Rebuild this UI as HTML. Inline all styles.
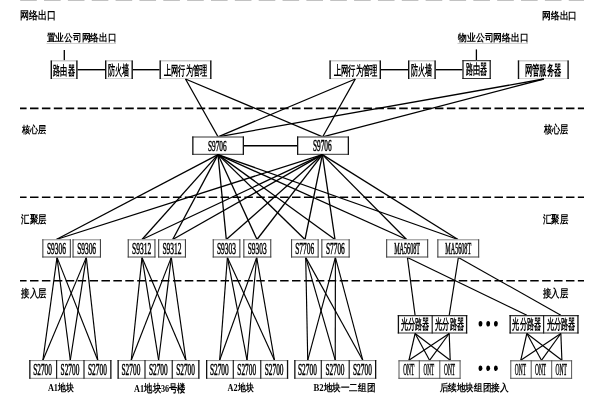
<!DOCTYPE html>
<html><head><meta charset="utf-8"><style>
html,body{margin:0;padding:0;background:#fff;width:600px;height:400px;overflow:hidden}
svg{display:block;will-change:transform}
text{font-family:"Liberation Serif",serif;fill:#000}
</style></head><body>
<svg width="600" height="400" viewBox="0 0 600 400">
<rect width="600" height="400" fill="#fff"/>
<line x1="20" y1="108.4" x2="584" y2="108.4" stroke="#000" stroke-width="1.6" stroke-dasharray="8.5 3.41" stroke-dashoffset="1.91"/>
<line x1="20" y1="197.2" x2="584" y2="197.2" stroke="#000" stroke-width="1.6" stroke-dasharray="8.5 3.41" stroke-dashoffset="1.91"/>
<line x1="20" y1="280.8" x2="584" y2="280.8" stroke="#000" stroke-width="1.6" stroke-dasharray="8.5 3.41" stroke-dashoffset="1.91"/>
<line x1="20.2" y1="0.5" x2="584" y2="0.5" stroke="#c2c2c2" stroke-width="1" stroke-dasharray="16.6 7.25"/>
<text x="19.87" y="19.23" font-size="10.51" textLength="36.07" lengthAdjust="spacingAndGlyphs" font-weight="bold">网络出口</text>
<text x="542.29" y="19.06" font-size="10.31" textLength="34.91" lengthAdjust="spacingAndGlyphs" font-weight="bold">网络出口</text>
<text x="21.95" y="132.63" font-size="10.38" textLength="24.52" lengthAdjust="spacingAndGlyphs" font-weight="bold">核心层</text>
<text x="543.55" y="132.77" font-size="10.77" textLength="24.52" lengthAdjust="spacingAndGlyphs" font-weight="bold">核心层</text>
<text x="21.38" y="223.40" font-size="11.46" textLength="25.08" lengthAdjust="spacingAndGlyphs" font-weight="bold">汇聚层</text>
<text x="543.08" y="223.47" font-size="10.94" textLength="25.08" lengthAdjust="spacingAndGlyphs" font-weight="bold">汇聚层</text>
<text x="21.47" y="296.88" font-size="10.68" textLength="25.00" lengthAdjust="spacingAndGlyphs" font-weight="bold">接入层</text>
<text x="543.17" y="296.95" font-size="10.87" textLength="25.00" lengthAdjust="spacingAndGlyphs" font-weight="bold">接入层</text>
<text x="46.75" y="41.07" font-size="10.20" textLength="69.64" lengthAdjust="spacingAndGlyphs" font-weight="bold">置业公司网络出口</text>
<text x="458.18" y="41.34" font-size="10.40" textLength="70.23" lengthAdjust="spacingAndGlyphs" font-weight="bold">物业公司网络出口</text>
<line x1="46.50" y1="43.40" x2="116.00" y2="43.40" stroke="#bbb" stroke-width="0.8"/>
<line x1="457.50" y1="43.40" x2="528.00" y2="43.40" stroke="#bbb" stroke-width="0.8"/>
<line x1="64.30" y1="50.00" x2="64.30" y2="60.70" stroke="#000" stroke-width="1.3"/>
<line x1="476.40" y1="49.40" x2="476.40" y2="60.70" stroke="#000" stroke-width="1.3"/>
<rect x="50.60" y="60.40" width="27.00" height="18.60" fill="#fff"/>
<line x1="50.60" y1="60.85" x2="77.60" y2="60.85" stroke="#aaa" stroke-width="0.9"/>
<line x1="50.60" y1="78.55" x2="77.60" y2="78.55" stroke="#ccc" stroke-width="0.9"/>
<line x1="51.30" y1="60.40" x2="51.30" y2="79.00" stroke="#111" stroke-width="1.4"/>
<line x1="76.90" y1="60.40" x2="76.90" y2="79.00" stroke="#111" stroke-width="1.4"/>
<text x="53.25" y="74.52" font-size="13.42" textLength="21.49" lengthAdjust="spacingAndGlyphs" font-weight="bold">路由器</text>
<rect x="105.00" y="60.40" width="27.90" height="18.60" fill="#fff"/>
<line x1="105.00" y1="60.85" x2="132.90" y2="60.85" stroke="#aaa" stroke-width="0.9"/>
<line x1="105.00" y1="78.55" x2="132.90" y2="78.55" stroke="#ccc" stroke-width="0.9"/>
<line x1="105.70" y1="60.40" x2="105.70" y2="79.00" stroke="#111" stroke-width="1.4"/>
<line x1="132.20" y1="60.40" x2="132.20" y2="79.00" stroke="#111" stroke-width="1.4"/>
<text x="108.01" y="74.94" font-size="13.70" textLength="21.43" lengthAdjust="spacingAndGlyphs" font-weight="bold">防火墙</text>
<rect x="159.50" y="60.40" width="52.00" height="18.60" fill="#fff"/>
<line x1="159.50" y1="60.85" x2="211.50" y2="60.85" stroke="#aaa" stroke-width="0.9"/>
<line x1="159.50" y1="78.55" x2="211.50" y2="78.55" stroke="#ccc" stroke-width="0.9"/>
<line x1="160.20" y1="60.40" x2="160.20" y2="79.00" stroke="#111" stroke-width="1.4"/>
<line x1="210.80" y1="60.40" x2="210.80" y2="79.00" stroke="#111" stroke-width="1.4"/>
<text x="164.00" y="74.53" font-size="13.13" textLength="43.14" lengthAdjust="spacingAndGlyphs" font-weight="bold">上网行为管理</text>
<rect x="329.40" y="60.40" width="51.60" height="18.60" fill="#fff"/>
<line x1="329.40" y1="60.85" x2="381.00" y2="60.85" stroke="#aaa" stroke-width="0.9"/>
<line x1="329.40" y1="78.55" x2="381.00" y2="78.55" stroke="#ccc" stroke-width="0.9"/>
<line x1="330.10" y1="60.40" x2="330.10" y2="79.00" stroke="#111" stroke-width="1.4"/>
<line x1="380.30" y1="60.40" x2="380.30" y2="79.00" stroke="#111" stroke-width="1.4"/>
<text x="333.80" y="74.53" font-size="13.13" textLength="43.85" lengthAdjust="spacingAndGlyphs" font-weight="bold">上网行为管理</text>
<rect x="408.00" y="60.40" width="27.80" height="18.60" fill="#fff"/>
<line x1="408.00" y1="60.85" x2="435.80" y2="60.85" stroke="#aaa" stroke-width="0.9"/>
<line x1="408.00" y1="78.55" x2="435.80" y2="78.55" stroke="#ccc" stroke-width="0.9"/>
<line x1="408.70" y1="60.40" x2="408.70" y2="79.00" stroke="#111" stroke-width="1.4"/>
<line x1="435.10" y1="60.40" x2="435.10" y2="79.00" stroke="#111" stroke-width="1.4"/>
<text x="411.01" y="74.94" font-size="13.70" textLength="21.43" lengthAdjust="spacingAndGlyphs" font-weight="bold">防火墙</text>
<rect x="462.40" y="60.20" width="28.40" height="18.80" fill="#fff"/>
<line x1="462.40" y1="60.70" x2="490.80" y2="60.70" stroke="#222" stroke-width="1.0"/>
<line x1="462.40" y1="78.50" x2="490.80" y2="78.50" stroke="#333" stroke-width="1.0"/>
<line x1="463.00" y1="60.20" x2="463.00" y2="79.00" stroke="#111" stroke-width="1.2"/>
<line x1="490.20" y1="60.20" x2="490.20" y2="79.00" stroke="#111" stroke-width="1.2"/>
<text x="465.90" y="74.40" font-size="13.57" textLength="21.54" lengthAdjust="spacingAndGlyphs" font-weight="bold">路由器</text>
<rect x="517.80" y="60.40" width="51.00" height="18.60" fill="#fff"/>
<line x1="517.80" y1="60.85" x2="568.80" y2="60.85" stroke="#aaa" stroke-width="0.9"/>
<line x1="517.80" y1="78.55" x2="568.80" y2="78.55" stroke="#ccc" stroke-width="0.9"/>
<line x1="518.50" y1="60.40" x2="518.50" y2="79.00" stroke="#111" stroke-width="1.4"/>
<line x1="568.10" y1="60.40" x2="568.10" y2="79.00" stroke="#111" stroke-width="1.4"/>
<text x="524.69" y="74.77" font-size="13.94" textLength="36.76" lengthAdjust="spacingAndGlyphs" font-weight="bold">网管服务器</text>
<line x1="77.60" y1="69.70" x2="105.00" y2="69.70" stroke="#000" stroke-width="1.4"/>
<line x1="132.90" y1="69.70" x2="159.50" y2="69.70" stroke="#000" stroke-width="1.4"/>
<line x1="381.00" y1="69.70" x2="408.00" y2="69.70" stroke="#000" stroke-width="1.4"/>
<line x1="435.80" y1="69.70" x2="462.40" y2="69.70" stroke="#000" stroke-width="1.4"/>
<line x1="185.50" y1="79.00" x2="218.00" y2="136.80" stroke="#000" stroke-width="1.3"/>
<line x1="185.50" y1="79.00" x2="322.70" y2="136.80" stroke="#000" stroke-width="1.3"/>
<line x1="355.30" y1="79.00" x2="218.00" y2="136.80" stroke="#000" stroke-width="1.3"/>
<line x1="355.30" y1="79.00" x2="322.70" y2="136.80" stroke="#000" stroke-width="1.3"/>
<line x1="543.80" y1="79.00" x2="218.00" y2="136.80" stroke="#000" stroke-width="1.3"/>
<line x1="543.80" y1="79.00" x2="322.70" y2="136.80" stroke="#000" stroke-width="1.3"/>
<rect x="192.20" y="136.50" width="51.80" height="18.30" fill="#fff"/>
<line x1="192.20" y1="137.00" x2="244.00" y2="137.00" stroke="#333" stroke-width="1.0"/>
<line x1="192.20" y1="154.30" x2="244.00" y2="154.30" stroke="#333" stroke-width="1.0"/>
<line x1="192.85" y1="136.50" x2="192.85" y2="154.80" stroke="#111" stroke-width="1.3"/>
<line x1="243.35" y1="136.50" x2="243.35" y2="154.80" stroke="#111" stroke-width="1.3"/>
<rect x="297.00" y="136.50" width="52.00" height="18.30" fill="#fff"/>
<line x1="297.00" y1="137.00" x2="349.00" y2="137.00" stroke="#333" stroke-width="1.0"/>
<line x1="297.00" y1="154.30" x2="349.00" y2="154.30" stroke="#333" stroke-width="1.0"/>
<line x1="297.65" y1="136.50" x2="297.65" y2="154.80" stroke="#111" stroke-width="1.3"/>
<line x1="348.35" y1="136.50" x2="348.35" y2="154.80" stroke="#111" stroke-width="1.3"/>
<line x1="244.00" y1="145.70" x2="297.00" y2="145.70" stroke="#000" stroke-width="1.4"/>
<text x="207.99" y="150.79" font-size="15.59" textLength="18.70" lengthAdjust="spacingAndGlyphs" stroke="#000" stroke-width="0.55">S9706</text>
<text x="312.99" y="150.89" font-size="15.74" textLength="18.70" lengthAdjust="spacingAndGlyphs" stroke="#000" stroke-width="0.55">S9706</text>
<line x1="218.00" y1="154.60" x2="56.30" y2="239.50" stroke="#000" stroke-width="1.3"/>
<line x1="218.00" y1="154.60" x2="142.00" y2="239.50" stroke="#000" stroke-width="1.3"/>
<line x1="218.00" y1="154.60" x2="172.70" y2="239.50" stroke="#000" stroke-width="1.3"/>
<line x1="218.00" y1="154.60" x2="226.30" y2="239.50" stroke="#000" stroke-width="1.3"/>
<line x1="218.00" y1="154.60" x2="257.00" y2="239.50" stroke="#000" stroke-width="1.3"/>
<line x1="218.00" y1="154.60" x2="305.00" y2="239.50" stroke="#000" stroke-width="1.3"/>
<line x1="218.00" y1="154.60" x2="335.00" y2="239.50" stroke="#000" stroke-width="1.3"/>
<line x1="218.00" y1="154.60" x2="406.60" y2="239.50" stroke="#000" stroke-width="1.3"/>
<line x1="218.00" y1="154.60" x2="458.00" y2="239.50" stroke="#000" stroke-width="1.3"/>
<line x1="322.40" y1="154.60" x2="56.30" y2="239.50" stroke="#000" stroke-width="1.3"/>
<line x1="322.40" y1="154.60" x2="142.00" y2="239.50" stroke="#000" stroke-width="1.3"/>
<line x1="322.40" y1="154.60" x2="172.70" y2="239.50" stroke="#000" stroke-width="1.3"/>
<line x1="322.40" y1="154.60" x2="226.30" y2="239.50" stroke="#000" stroke-width="1.3"/>
<line x1="322.40" y1="154.60" x2="257.00" y2="239.50" stroke="#000" stroke-width="1.3"/>
<line x1="322.40" y1="154.60" x2="305.00" y2="239.50" stroke="#000" stroke-width="1.3"/>
<line x1="322.40" y1="154.60" x2="335.00" y2="239.50" stroke="#000" stroke-width="1.3"/>
<line x1="322.40" y1="154.60" x2="406.60" y2="239.50" stroke="#000" stroke-width="1.3"/>
<line x1="322.40" y1="154.60" x2="458.00" y2="239.50" stroke="#000" stroke-width="1.3"/>
<line x1="57.00" y1="257.40" x2="42.90" y2="360.20" stroke="#000" stroke-width="1.15"/>
<line x1="57.00" y1="257.40" x2="70.30" y2="360.20" stroke="#000" stroke-width="1.15"/>
<line x1="57.00" y1="257.40" x2="97.75" y2="360.20" stroke="#000" stroke-width="1.15"/>
<line x1="86.30" y1="257.40" x2="42.90" y2="360.20" stroke="#000" stroke-width="1.15"/>
<line x1="86.30" y1="257.40" x2="70.30" y2="360.20" stroke="#000" stroke-width="1.15"/>
<line x1="86.30" y1="257.40" x2="97.75" y2="360.20" stroke="#000" stroke-width="1.15"/>
<line x1="142.00" y1="257.40" x2="131.25" y2="360.20" stroke="#000" stroke-width="1.15"/>
<line x1="142.00" y1="257.40" x2="158.62" y2="360.20" stroke="#000" stroke-width="1.15"/>
<line x1="142.00" y1="257.40" x2="185.88" y2="360.20" stroke="#000" stroke-width="1.15"/>
<line x1="171.30" y1="257.40" x2="131.25" y2="360.20" stroke="#000" stroke-width="1.15"/>
<line x1="171.30" y1="257.40" x2="158.62" y2="360.20" stroke="#000" stroke-width="1.15"/>
<line x1="171.30" y1="257.40" x2="185.88" y2="360.20" stroke="#000" stroke-width="1.15"/>
<line x1="227.40" y1="257.40" x2="219.65" y2="360.20" stroke="#000" stroke-width="1.15"/>
<line x1="227.40" y1="257.40" x2="247.03" y2="360.20" stroke="#000" stroke-width="1.15"/>
<line x1="227.40" y1="257.40" x2="274.48" y2="360.20" stroke="#000" stroke-width="1.15"/>
<line x1="256.70" y1="257.40" x2="219.65" y2="360.20" stroke="#000" stroke-width="1.15"/>
<line x1="256.70" y1="257.40" x2="247.03" y2="360.20" stroke="#000" stroke-width="1.15"/>
<line x1="256.70" y1="257.40" x2="274.48" y2="360.20" stroke="#000" stroke-width="1.15"/>
<line x1="305.70" y1="257.40" x2="307.75" y2="360.20" stroke="#000" stroke-width="1.15"/>
<line x1="305.70" y1="257.40" x2="335.25" y2="360.20" stroke="#000" stroke-width="1.15"/>
<line x1="305.70" y1="257.40" x2="362.75" y2="360.20" stroke="#000" stroke-width="1.15"/>
<line x1="335.40" y1="257.40" x2="307.75" y2="360.20" stroke="#000" stroke-width="1.15"/>
<line x1="335.40" y1="257.40" x2="335.25" y2="360.20" stroke="#000" stroke-width="1.15"/>
<line x1="335.40" y1="257.40" x2="362.75" y2="360.20" stroke="#000" stroke-width="1.15"/>
<line x1="407.40" y1="257.40" x2="415.10" y2="315.30" stroke="#000" stroke-width="1.15"/>
<line x1="407.40" y1="257.40" x2="526.85" y2="315.30" stroke="#000" stroke-width="1.15"/>
<line x1="458.40" y1="257.40" x2="449.20" y2="315.30" stroke="#000" stroke-width="1.15"/>
<line x1="458.40" y1="257.40" x2="560.85" y2="315.30" stroke="#000" stroke-width="1.15"/>
<rect x="42.30" y="239.30" width="28.60" height="18.20" fill="#fff"/>
<line x1="42.30" y1="239.80" x2="70.90" y2="239.80" stroke="#888" stroke-width="1.0"/>
<line x1="42.30" y1="257.00" x2="70.90" y2="257.00" stroke="#444" stroke-width="1.0"/>
<line x1="42.85" y1="239.30" x2="42.85" y2="257.50" stroke="#444" stroke-width="1.1"/>
<line x1="70.35" y1="239.30" x2="70.35" y2="257.50" stroke="#444" stroke-width="1.1"/>
<text x="46.98" y="253.66" font-size="17.21" textLength="18.91" lengthAdjust="spacingAndGlyphs" stroke="#000" stroke-width="0.55">S9306</text>
<rect x="72.50" y="239.30" width="28.50" height="18.20" fill="#fff"/>
<line x1="72.50" y1="239.80" x2="101.00" y2="239.80" stroke="#888" stroke-width="1.0"/>
<line x1="72.50" y1="257.00" x2="101.00" y2="257.00" stroke="#444" stroke-width="1.0"/>
<line x1="73.05" y1="239.30" x2="73.05" y2="257.50" stroke="#444" stroke-width="1.1"/>
<line x1="100.45" y1="239.30" x2="100.45" y2="257.50" stroke="#444" stroke-width="1.1"/>
<text x="77.13" y="253.66" font-size="17.21" textLength="18.91" lengthAdjust="spacingAndGlyphs" stroke="#000" stroke-width="0.55">S9306</text>
<rect x="127.70" y="239.30" width="27.80" height="18.20" fill="#fff"/>
<line x1="127.70" y1="239.80" x2="155.50" y2="239.80" stroke="#888" stroke-width="1.0"/>
<line x1="127.70" y1="257.00" x2="155.50" y2="257.00" stroke="#444" stroke-width="1.0"/>
<line x1="128.25" y1="239.30" x2="128.25" y2="257.50" stroke="#444" stroke-width="1.1"/>
<line x1="154.95" y1="239.30" x2="154.95" y2="257.50" stroke="#444" stroke-width="1.1"/>
<text x="131.98" y="253.66" font-size="17.21" textLength="19.15" lengthAdjust="spacingAndGlyphs" stroke="#000" stroke-width="0.55">S9312</text>
<rect x="158.10" y="239.30" width="27.90" height="18.20" fill="#fff"/>
<line x1="158.10" y1="239.80" x2="186.00" y2="239.80" stroke="#888" stroke-width="1.0"/>
<line x1="158.10" y1="257.00" x2="186.00" y2="257.00" stroke="#444" stroke-width="1.0"/>
<line x1="158.65" y1="239.30" x2="158.65" y2="257.50" stroke="#444" stroke-width="1.1"/>
<line x1="185.45" y1="239.30" x2="185.45" y2="257.50" stroke="#444" stroke-width="1.1"/>
<text x="162.43" y="253.66" font-size="17.21" textLength="19.15" lengthAdjust="spacingAndGlyphs" stroke="#000" stroke-width="0.55">S9312</text>
<rect x="212.70" y="239.30" width="27.70" height="18.20" fill="#fff"/>
<line x1="212.70" y1="239.80" x2="240.40" y2="239.80" stroke="#888" stroke-width="1.0"/>
<line x1="212.70" y1="257.00" x2="240.40" y2="257.00" stroke="#444" stroke-width="1.0"/>
<line x1="213.25" y1="239.30" x2="213.25" y2="257.50" stroke="#444" stroke-width="1.1"/>
<line x1="239.85" y1="239.30" x2="239.85" y2="257.50" stroke="#444" stroke-width="1.1"/>
<text x="216.93" y="253.66" font-size="17.21" textLength="18.99" lengthAdjust="spacingAndGlyphs" stroke="#000" stroke-width="0.55">S9303</text>
<rect x="243.30" y="239.30" width="28.00" height="18.20" fill="#fff"/>
<line x1="243.30" y1="239.80" x2="271.30" y2="239.80" stroke="#888" stroke-width="1.0"/>
<line x1="243.30" y1="257.00" x2="271.30" y2="257.00" stroke="#444" stroke-width="1.0"/>
<line x1="243.85" y1="239.30" x2="243.85" y2="257.50" stroke="#444" stroke-width="1.1"/>
<line x1="270.75" y1="239.30" x2="270.75" y2="257.50" stroke="#444" stroke-width="1.1"/>
<text x="247.68" y="253.66" font-size="17.21" textLength="18.99" lengthAdjust="spacingAndGlyphs" stroke="#000" stroke-width="0.55">S9303</text>
<rect x="291.00" y="239.30" width="27.70" height="18.20" fill="#fff"/>
<line x1="291.00" y1="239.80" x2="318.70" y2="239.80" stroke="#888" stroke-width="1.0"/>
<line x1="291.00" y1="257.00" x2="318.70" y2="257.00" stroke="#444" stroke-width="1.0"/>
<line x1="291.55" y1="239.30" x2="291.55" y2="257.50" stroke="#444" stroke-width="1.1"/>
<line x1="318.15" y1="239.30" x2="318.15" y2="257.50" stroke="#444" stroke-width="1.1"/>
<text x="295.23" y="253.66" font-size="17.21" textLength="18.91" lengthAdjust="spacingAndGlyphs" stroke="#000" stroke-width="0.55">S7706</text>
<rect x="321.30" y="239.30" width="28.40" height="18.20" fill="#fff"/>
<line x1="321.30" y1="239.80" x2="349.70" y2="239.80" stroke="#888" stroke-width="1.0"/>
<line x1="321.30" y1="257.00" x2="349.70" y2="257.00" stroke="#444" stroke-width="1.0"/>
<line x1="321.85" y1="239.30" x2="321.85" y2="257.50" stroke="#444" stroke-width="1.1"/>
<line x1="349.15" y1="239.30" x2="349.15" y2="257.50" stroke="#444" stroke-width="1.1"/>
<text x="325.88" y="253.66" font-size="17.21" textLength="18.91" lengthAdjust="spacingAndGlyphs" stroke="#000" stroke-width="0.55">S7706</text>
<rect x="386.10" y="239.30" width="42.10" height="18.20" fill="#fff"/>
<line x1="386.10" y1="239.80" x2="428.20" y2="239.80" stroke="#888" stroke-width="1.0"/>
<line x1="386.10" y1="257.00" x2="428.20" y2="257.00" stroke="#444" stroke-width="1.0"/>
<line x1="386.65" y1="239.30" x2="386.65" y2="257.50" stroke="#444" stroke-width="1.1"/>
<line x1="427.65" y1="239.30" x2="427.65" y2="257.50" stroke="#444" stroke-width="1.1"/>
<text x="394.17" y="254.06" font-size="17.06" textLength="25.86" lengthAdjust="spacingAndGlyphs" stroke="#000" stroke-width="0.55">MA5608T</text>
<rect x="437.30" y="239.30" width="41.90" height="18.20" fill="#fff"/>
<line x1="437.30" y1="239.80" x2="479.20" y2="239.80" stroke="#888" stroke-width="1.0"/>
<line x1="437.30" y1="257.00" x2="479.20" y2="257.00" stroke="#444" stroke-width="1.0"/>
<line x1="437.85" y1="239.30" x2="437.85" y2="257.50" stroke="#444" stroke-width="1.1"/>
<line x1="478.65" y1="239.30" x2="478.65" y2="257.50" stroke="#444" stroke-width="1.1"/>
<text x="445.27" y="254.06" font-size="17.06" textLength="25.86" lengthAdjust="spacingAndGlyphs" stroke="#000" stroke-width="0.55">MA5608T</text>
<rect x="29.20" y="360.10" width="82.30" height="18.70" fill="#fff"/>
<line x1="29.20" y1="360.60" x2="111.50" y2="360.60" stroke="#888" stroke-width="1.0"/>
<line x1="29.20" y1="378.30" x2="111.50" y2="378.30" stroke="#888" stroke-width="1.0"/>
<line x1="29.85" y1="360.10" x2="29.85" y2="378.80" stroke="#111" stroke-width="1.3"/>
<line x1="110.85" y1="360.10" x2="110.85" y2="378.80" stroke="#111" stroke-width="1.3"/>
<line x1="56.60" y1="360.10" x2="56.60" y2="378.80" stroke="#222" stroke-width="1.2"/>
<line x1="84.00" y1="360.10" x2="84.00" y2="378.80" stroke="#222" stroke-width="1.2"/>
<text x="33.19" y="374.68" font-size="16.18" textLength="18.78" lengthAdjust="spacingAndGlyphs" stroke="#000" stroke-width="0.55">S2700</text>
<text x="60.59" y="374.68" font-size="16.18" textLength="18.78" lengthAdjust="spacingAndGlyphs" stroke="#000" stroke-width="0.55">S2700</text>
<text x="88.04" y="374.68" font-size="16.18" textLength="18.78" lengthAdjust="spacingAndGlyphs" stroke="#000" stroke-width="0.55">S2700</text>
<rect x="117.50" y="360.10" width="82.00" height="18.70" fill="#fff"/>
<line x1="117.50" y1="360.60" x2="199.50" y2="360.60" stroke="#888" stroke-width="1.0"/>
<line x1="117.50" y1="378.30" x2="199.50" y2="378.30" stroke="#888" stroke-width="1.0"/>
<line x1="118.15" y1="360.10" x2="118.15" y2="378.80" stroke="#111" stroke-width="1.3"/>
<line x1="198.85" y1="360.10" x2="198.85" y2="378.80" stroke="#111" stroke-width="1.3"/>
<line x1="145.00" y1="360.10" x2="145.00" y2="378.80" stroke="#222" stroke-width="1.2"/>
<line x1="172.25" y1="360.10" x2="172.25" y2="378.80" stroke="#222" stroke-width="1.2"/>
<text x="121.54" y="374.68" font-size="16.18" textLength="18.78" lengthAdjust="spacingAndGlyphs" stroke="#000" stroke-width="0.55">S2700</text>
<text x="148.91" y="374.68" font-size="16.18" textLength="18.78" lengthAdjust="spacingAndGlyphs" stroke="#000" stroke-width="0.55">S2700</text>
<text x="176.16" y="374.68" font-size="16.18" textLength="18.78" lengthAdjust="spacingAndGlyphs" stroke="#000" stroke-width="0.55">S2700</text>
<rect x="206.00" y="360.10" width="82.20" height="18.70" fill="#fff"/>
<line x1="206.00" y1="360.60" x2="288.20" y2="360.60" stroke="#888" stroke-width="1.0"/>
<line x1="206.00" y1="378.30" x2="288.20" y2="378.30" stroke="#888" stroke-width="1.0"/>
<line x1="206.65" y1="360.10" x2="206.65" y2="378.80" stroke="#111" stroke-width="1.3"/>
<line x1="287.55" y1="360.10" x2="287.55" y2="378.80" stroke="#111" stroke-width="1.3"/>
<line x1="233.30" y1="360.10" x2="233.30" y2="378.80" stroke="#222" stroke-width="1.2"/>
<line x1="260.75" y1="360.10" x2="260.75" y2="378.80" stroke="#222" stroke-width="1.2"/>
<text x="209.94" y="374.68" font-size="16.18" textLength="18.78" lengthAdjust="spacingAndGlyphs" stroke="#000" stroke-width="0.55">S2700</text>
<text x="237.31" y="374.68" font-size="16.18" textLength="18.78" lengthAdjust="spacingAndGlyphs" stroke="#000" stroke-width="0.55">S2700</text>
<text x="264.76" y="374.68" font-size="16.18" textLength="18.78" lengthAdjust="spacingAndGlyphs" stroke="#000" stroke-width="0.55">S2700</text>
<rect x="294.20" y="360.10" width="82.10" height="18.70" fill="#fff"/>
<line x1="294.20" y1="360.60" x2="376.30" y2="360.60" stroke="#888" stroke-width="1.0"/>
<line x1="294.20" y1="378.30" x2="376.30" y2="378.30" stroke="#888" stroke-width="1.0"/>
<line x1="294.85" y1="360.10" x2="294.85" y2="378.80" stroke="#111" stroke-width="1.3"/>
<line x1="375.65" y1="360.10" x2="375.65" y2="378.80" stroke="#111" stroke-width="1.3"/>
<line x1="321.30" y1="360.10" x2="321.30" y2="378.80" stroke="#222" stroke-width="1.2"/>
<line x1="349.20" y1="360.10" x2="349.20" y2="378.80" stroke="#222" stroke-width="1.2"/>
<text x="298.04" y="374.68" font-size="16.18" textLength="18.78" lengthAdjust="spacingAndGlyphs" stroke="#000" stroke-width="0.55">S2700</text>
<text x="325.54" y="374.68" font-size="16.18" textLength="18.78" lengthAdjust="spacingAndGlyphs" stroke="#000" stroke-width="0.55">S2700</text>
<text x="353.04" y="374.68" font-size="16.18" textLength="18.78" lengthAdjust="spacingAndGlyphs" stroke="#000" stroke-width="0.55">S2700</text>
<rect x="397.75" y="315.10" width="69.50" height="18.40" fill="#fff"/>
<line x1="397.75" y1="315.65" x2="467.25" y2="315.65" stroke="#333" stroke-width="1.1"/>
<line x1="397.75" y1="332.95" x2="467.25" y2="332.95" stroke="#333" stroke-width="1.1"/>
<line x1="398.40" y1="315.10" x2="398.40" y2="333.50" stroke="#111" stroke-width="1.3"/>
<line x1="466.60" y1="315.10" x2="466.60" y2="333.50" stroke="#111" stroke-width="1.3"/>
<line x1="432.20" y1="315.10" x2="432.20" y2="333.50" stroke="#222" stroke-width="1.2"/>
<text x="400.74" y="328.97" font-size="13.54" textLength="28.80" lengthAdjust="spacingAndGlyphs" font-weight="bold">光分路器</text>
<text x="435.14" y="328.97" font-size="13.54" textLength="28.75" lengthAdjust="spacingAndGlyphs" font-weight="bold">光分路器</text>
<rect x="509.50" y="315.10" width="69.10" height="18.40" fill="#fff"/>
<line x1="509.50" y1="315.65" x2="578.60" y2="315.65" stroke="#333" stroke-width="1.1"/>
<line x1="509.50" y1="332.95" x2="578.60" y2="332.95" stroke="#333" stroke-width="1.1"/>
<line x1="510.15" y1="315.10" x2="510.15" y2="333.50" stroke="#111" stroke-width="1.3"/>
<line x1="577.95" y1="315.10" x2="577.95" y2="333.50" stroke="#111" stroke-width="1.3"/>
<line x1="543.60" y1="315.10" x2="543.60" y2="333.50" stroke="#222" stroke-width="1.2"/>
<text x="512.39" y="328.97" font-size="13.54" textLength="28.75" lengthAdjust="spacingAndGlyphs" font-weight="bold">光分路器</text>
<text x="546.89" y="328.97" font-size="13.54" textLength="28.75" lengthAdjust="spacingAndGlyphs" font-weight="bold">光分路器</text>
<line x1="415.10" y1="333.50" x2="408.90" y2="360.30" stroke="#000" stroke-width="1.15"/>
<line x1="415.10" y1="333.50" x2="429.55" y2="360.30" stroke="#000" stroke-width="1.15"/>
<line x1="415.10" y1="333.50" x2="450.20" y2="360.30" stroke="#000" stroke-width="1.15"/>
<line x1="449.20" y1="333.50" x2="408.90" y2="360.30" stroke="#000" stroke-width="1.15"/>
<line x1="449.20" y1="333.50" x2="429.55" y2="360.30" stroke="#000" stroke-width="1.15"/>
<line x1="449.20" y1="333.50" x2="450.20" y2="360.30" stroke="#000" stroke-width="1.15"/>
<rect x="398.50" y="360.30" width="62.10" height="18.50" fill="#fff"/>
<line x1="398.50" y1="360.80" x2="460.60" y2="360.80" stroke="#555" stroke-width="1.0"/>
<line x1="398.50" y1="378.30" x2="460.60" y2="378.30" stroke="#555" stroke-width="1.0"/>
<line x1="399.00" y1="360.30" x2="399.00" y2="378.80" stroke="#555" stroke-width="1.0"/>
<line x1="460.10" y1="360.30" x2="460.10" y2="378.80" stroke="#555" stroke-width="1.0"/>
<line x1="419.30" y1="360.30" x2="419.30" y2="378.80" stroke="#555" stroke-width="1.0"/>
<line x1="439.80" y1="360.30" x2="439.80" y2="378.80" stroke="#555" stroke-width="1.0"/>
<text x="403.19" y="374.66" font-size="16.76" textLength="11.00" lengthAdjust="spacingAndGlyphs" stroke="#000" stroke-width="0.55">ONT</text>
<text x="423.60" y="374.66" font-size="16.76" textLength="10.48" lengthAdjust="spacingAndGlyphs" stroke="#000" stroke-width="0.55">ONT</text>
<text x="443.98" y="374.66" font-size="16.76" textLength="11.10" lengthAdjust="spacingAndGlyphs" stroke="#000" stroke-width="0.55">ONT</text>
<line x1="526.85" y1="333.50" x2="520.75" y2="360.30" stroke="#000" stroke-width="1.15"/>
<line x1="526.85" y1="333.50" x2="541.45" y2="360.30" stroke="#000" stroke-width="1.15"/>
<line x1="526.85" y1="333.50" x2="561.90" y2="360.30" stroke="#000" stroke-width="1.15"/>
<line x1="560.85" y1="333.50" x2="520.75" y2="360.30" stroke="#000" stroke-width="1.15"/>
<line x1="560.85" y1="333.50" x2="541.45" y2="360.30" stroke="#000" stroke-width="1.15"/>
<line x1="560.85" y1="333.50" x2="561.90" y2="360.30" stroke="#000" stroke-width="1.15"/>
<rect x="510.30" y="360.30" width="61.80" height="18.50" fill="#fff"/>
<line x1="510.30" y1="360.80" x2="572.10" y2="360.80" stroke="#555" stroke-width="1.0"/>
<line x1="510.30" y1="378.30" x2="572.10" y2="378.30" stroke="#555" stroke-width="1.0"/>
<line x1="510.80" y1="360.30" x2="510.80" y2="378.80" stroke="#555" stroke-width="1.0"/>
<line x1="571.60" y1="360.30" x2="571.60" y2="378.80" stroke="#555" stroke-width="1.0"/>
<line x1="531.20" y1="360.30" x2="531.20" y2="378.80" stroke="#555" stroke-width="1.0"/>
<line x1="551.70" y1="360.30" x2="551.70" y2="378.80" stroke="#555" stroke-width="1.0"/>
<text x="514.78" y="374.66" font-size="16.76" textLength="11.20" lengthAdjust="spacingAndGlyphs" stroke="#000" stroke-width="0.55">ONT</text>
<text x="534.98" y="374.66" font-size="16.76" textLength="11.10" lengthAdjust="spacingAndGlyphs" stroke="#000" stroke-width="0.55">ONT</text>
<text x="555.38" y="374.66" font-size="16.76" textLength="11.41" lengthAdjust="spacingAndGlyphs" stroke="#000" stroke-width="0.55">ONT</text>
<ellipse cx="480.5" cy="323.7" rx="1.9" ry="2.8" fill="#000"/>
<ellipse cx="488.2" cy="323.7" rx="1.9" ry="2.8" fill="#000"/>
<ellipse cx="495.9" cy="323.7" rx="1.9" ry="2.8" fill="#000"/>
<ellipse cx="480.5" cy="368.3" rx="1.9" ry="2.8" fill="#000"/>
<ellipse cx="488.2" cy="368.3" rx="1.9" ry="2.8" fill="#000"/>
<ellipse cx="495.9" cy="368.3" rx="1.9" ry="2.8" fill="#000"/>
<text x="47.92" y="391.44" font-size="10.40" textLength="25.96" lengthAdjust="spacingAndGlyphs" font-weight="bold">A1地块</text>
<text x="134.12" y="391.59" font-size="10.70" textLength="51.78" lengthAdjust="spacingAndGlyphs" font-weight="bold">A1地块36号楼</text>
<text x="227.62" y="391.44" font-size="10.40" textLength="25.86" lengthAdjust="spacingAndGlyphs" font-weight="bold">A2地块</text>
<text x="313.53" y="391.27" font-size="10.20" textLength="61.61" lengthAdjust="spacingAndGlyphs" font-weight="bold">B2地块一二组团</text>
<text x="439.79" y="391.13" font-size="9.81" textLength="68.51" lengthAdjust="spacingAndGlyphs" font-weight="bold">后续地块组团接入</text>
</svg></body></html>
